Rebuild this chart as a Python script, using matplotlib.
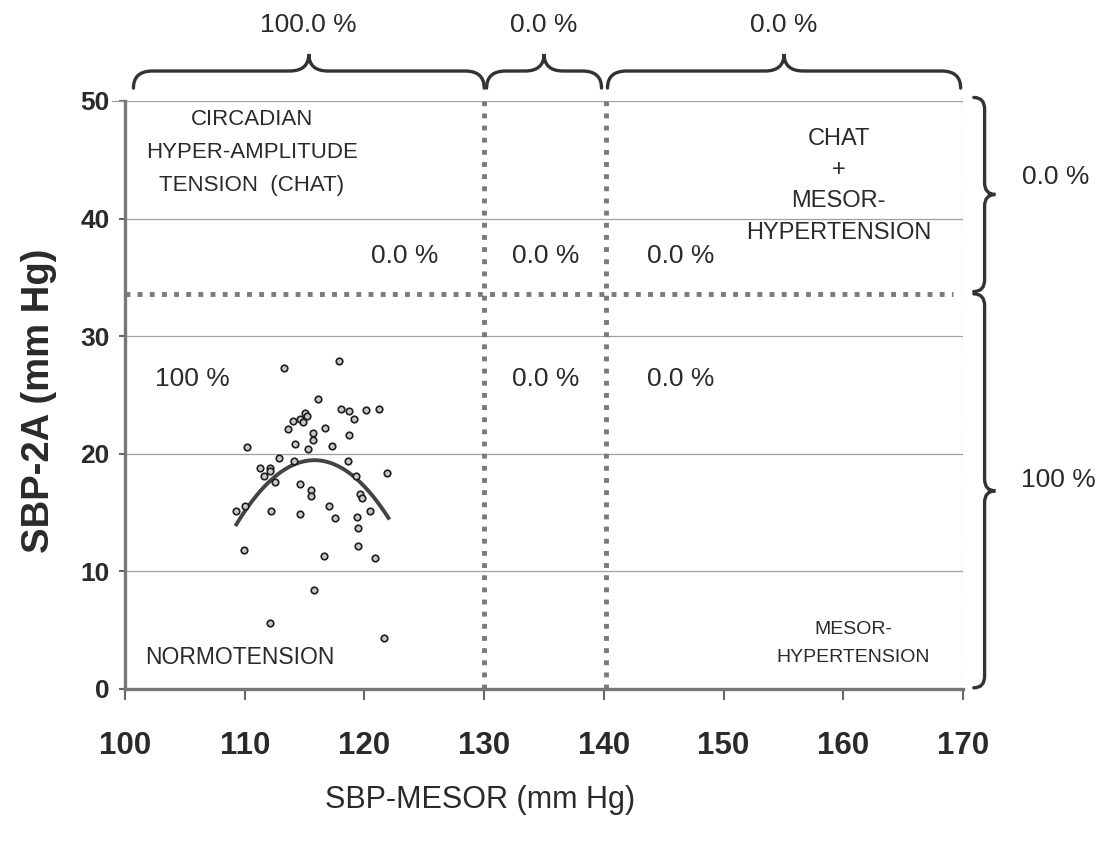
import numpy as np
import matplotlib
matplotlib.use('Agg')
import matplotlib.pyplot as plt
from matplotlib.path import Path
from matplotlib.patches import PathPatch

plt.rcParams['font.family'] = ['Liberation Sans', 'DejaVu Sans']

# individual subjects: MESOR vs double amplitude (mm Hg)
mesor = [113.3, 117.9, 116.1, 118.0, 118.7, 120.1, 121.2, 119.1, 115.0, 115.2,
         114.6, 114.0, 114.9, 113.6, 116.7, 115.7, 115.7, 118.7, 114.2, 117.3,
         115.3, 110.2, 112.9, 114.1, 118.6, 121.9, 111.3, 112.1, 112.1, 111.6,
         112.5, 119.3, 114.6, 115.5, 115.5, 119.6, 119.8, 117.0, 110.0, 109.3,
         112.2, 114.6, 117.5, 119.4, 120.5, 119.5, 119.5, 109.9, 116.6, 120.9,
         115.8, 112.1, 121.6]
amp2 = [27.3, 27.9, 24.7, 23.8, 23.6, 23.7, 23.8, 23.0, 23.5, 23.2,
        23.0, 22.8, 22.7, 22.1, 22.2, 21.8, 21.2, 21.6, 20.8, 20.7,
        20.4, 20.6, 19.6, 19.4, 19.4, 18.4, 18.8, 18.8, 18.5, 18.1,
        17.6, 18.1, 17.4, 16.9, 16.4, 16.6, 16.2, 15.6, 15.6, 15.1,
        15.1, 14.9, 14.5, 14.6, 15.1, 13.7, 12.2, 11.8, 11.3, 11.1,
        8.4, 5.6, 4.3]

# points along the fitted curve
curve_x = [109.3, 111.3, 112.4, 114.1, 116.0, 118.0, 119.4, 120.7, 122.0]
curve_y = [14.1, 16.8, 17.8, 19.1, 19.4, 18.8, 18.1, 16.4, 14.4]

# limits of the diagnostic zones
mesor_limits = [130, 140.2]
amp_limit = 33.6

xticks = [100, 110, 120, 130, 140, 150, 160, 170]
yticks = [0, 10, 20, 30, 40, 50]

top_pct = ['100.0 %', '0.0 %', '0.0 %']
right_pct = ['0.0 %', '100 %']
upper_pct = ['0.0 %', '0.0 %', '0.0 %']
lower_pct = ['100 %', '0.0 %', '0.0 %']

txt = '#2a2a2a'
gray = '#7a7a7a'


def brace(ax, a, b, base, h, r, vertical=False, lw=2.4):
    # curly brace from a to b, ends at base, tip at base + h
    m = (a + b) / 2.0
    q = base + h / 2.0
    pts = [(a, base), (a, q), (a + r, q), (m - r, q), (m, q), (m, base + h),
           (m, q), (m + r, q), (b - r, q), (b, q), (b, base)]
    codes = [Path.MOVETO, Path.CURVE3, Path.CURVE3, Path.LINETO,
             Path.CURVE3, Path.CURVE3, Path.CURVE3, Path.CURVE3,
             Path.LINETO, Path.CURVE3, Path.CURVE3]
    if vertical:
        pts = [(p[1], p[0]) for p in pts]
    ax.add_patch(PathPatch(Path(pts, codes), fill=False, lw=lw,
                           edgecolor='#333333', clip_on=False, capstyle='round'))


fig = plt.figure(figsize=(10.95, 8.43), dpi=100)
ax = fig.add_axes([0.1142, 0.1827, 0.7653, 0.6975])
ax.set_xlim(100, 170)
ax.set_ylim(0, 50)

# grid lines
for yv in [10, 20, 30, 40, 50]:
    ax.axhline(yv, color='#a0a0a0', lw=0.9, zorder=1)
ax.plot([98.9, 100], [50, 50], color='#a0a0a0', lw=0.9, clip_on=False)
ax.axvline(170, color='#b0b0b0', lw=0.9, ls=(0, (2, 1)), zorder=1)

# zone boundaries
for xv in mesor_limits:
    ax.plot([xv, xv], [0, 50], color=gray, lw=3.5, ls=(0, (1, 1.5)), zorder=2)
ax.plot([100, 169.2], [amp_limit, amp_limit], color=gray, lw=3.5,
        ls=(0, (1, 1.5)), zorder=2)

# data and fit
ax.scatter(mesor, amp2, s=22, facecolor='#c8c8c8', edgecolor='#1e1e1e',
           linewidth=1.2, zorder=4)
cf = np.polyfit(curve_x, curve_y, 2)
xf = np.linspace(curve_x[0], curve_x[-1], 100)
ax.plot(xf, np.polyval(cf, xf), color='#444444', lw=2.8, zorder=3)

# spines and ticks
for s in ['top', 'right']:
    ax.spines[s].set_visible(False)
ax.spines['left'].set_color('#777777')
ax.spines['left'].set_linewidth(2.4)
ax.spines['bottom'].set_color('#777777')
ax.spines['bottom'].set_linewidth(2.4)
ax.set_xticks(xticks)
ax.set_yticks(yticks)
ax.tick_params(axis='x', direction='out', length=8, width=1.5, color='#666666',
               pad=22, labelsize=22.5, labelcolor=txt)
ax.tick_params(axis='y', direction='out', length=4, width=1.5, color='#666666',
               pad=7, labelsize=19, labelcolor=txt)
for lab in ax.get_xticklabels() + ax.get_yticklabels():
    lab.set_fontweight('bold')

ax.set_xlabel('SBP-MESOR (mm Hg)', fontsize=22, color=txt)
ax.xaxis.set_label_coords(0.4236, -0.163)
ax.set_ylabel('SBP-2A (mm Hg)', fontsize=27.5, fontweight='bold', color=txt)
ax.yaxis.set_label_coords(-0.081, 0.49)

# zone names
ax.text(110.6, 45.6, 'CIRCADIAN\nHYPER-AMPLITUDE\nTENSION  (CHAT)', ha='center',
        va='center', fontsize=16, color=txt, linespacing=1.75)
ax.text(159.6, 42.8, 'CHAT\n+\nMESOR-\nHYPERTENSION', ha='center', va='center',
        fontsize=17, color=txt, linespacing=1.55)
ax.text(109.6, 2.7, 'NORMOTENSION', ha='center', va='center', fontsize=16.5,
        color=txt)
ax.text(160.8, 3.9, 'MESOR-\nHYPERTENSION', ha='center', va='center',
        fontsize=14, color=txt, linespacing=1.85)

# percentages inside the zones
for xv, s in zip([123.4, 135.1, 146.4], upper_pct):
    ax.text(xv, 36.8, s, ha='center', va='center', fontsize=19, color=txt)
for xv, s in zip([105.6, 135.1, 146.4], lower_pct):
    ax.text(xv, 26.4, s, ha='center', va='center', fontsize=19, color=txt)

# braces with marginal percentages
spans = [(100.7, 130.0), (130.2, 139.8), (140.3, 169.8)]
for (a, b), s in zip(spans, top_pct):
    brace(ax, a, b, 51.1, 2.9, 1.6)
    ax.text((a + b) / 2.0, 56.5, s, ha='center', va='center', fontsize=19,
            color=txt)

vspans = [(33.8, 50.3), (0.1, 33.6)]
for (a, b), s, xt, dy in zip(vspans, right_pct, [177.7, 178.0], [1.5, 0.9]):
    brace(ax, a, b, 170.9, 1.8, 1.0, vertical=True)
    ax.text(xt, (a + b) / 2.0 + dy, s, ha='center', va='center', fontsize=19,
            color=txt)

fig.savefig('out.png', dpi=100)
